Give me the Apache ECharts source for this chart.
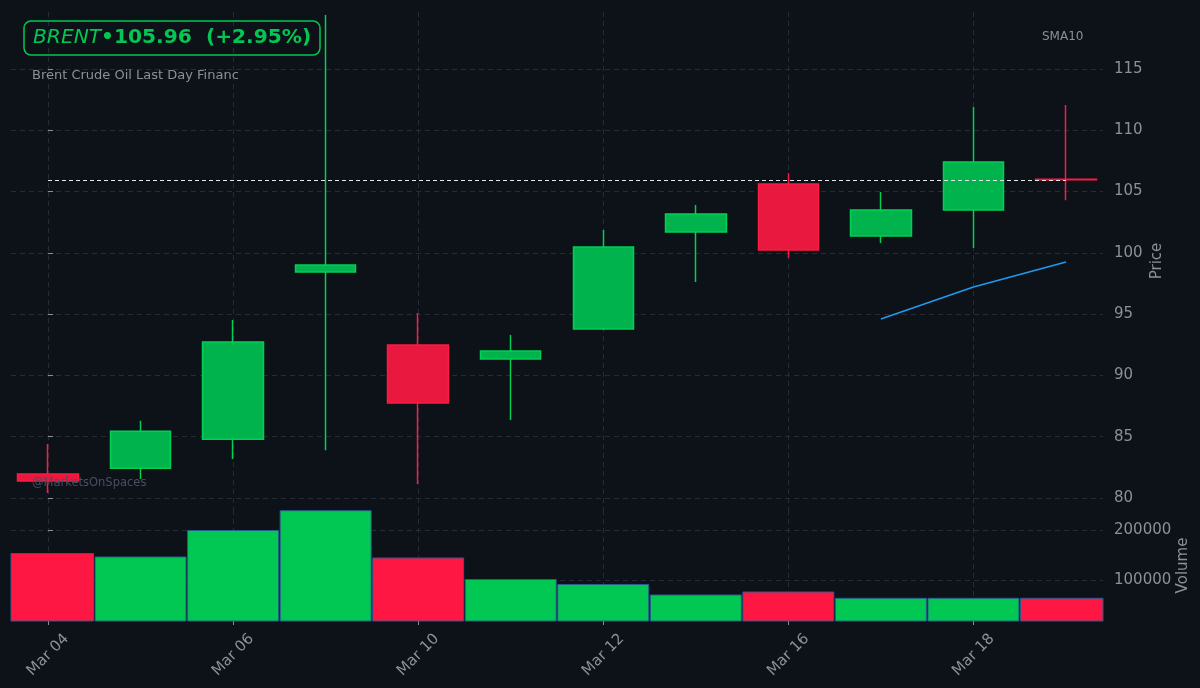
<!DOCTYPE html>
<html><head><meta charset="utf-8">
<script src="https://cdn.jsdelivr.net/npm/echarts@6/dist/echarts.min.js"></script>
<style>html,body{margin:0;padding:0;background:#0d1118;}#c{width:1200px;height:688px;}</style>
</head><body><div id="c"></div>
<script>
// ---- data ----
const dates   = ['Mar 04','Mar 05','Mar 06','Mar 09','Mar 10','Mar 11','Mar 12','Mar 13','Mar 16','Mar 17','Mar 18','Mar 19'];
const opens   = [81.96, 82.42, 84.80, 98.44, 92.48, 91.34, 93.79, 101.70, 105.62, 101.38, 103.50, 106.00];
const closes  = [81.39, 85.45, 92.73, 99.01, 87.75, 91.99, 100.48, 103.17, 100.23, 103.50, 107.41, 105.96];
const lows    = [80.40, 81.55, 83.18, 83.90, 81.14, 86.36, 93.70, 97.62, 99.58, 100.80, 100.40, 104.30];
const highs   = [84.40, 86.30, 94.52, 119.40, 95.10, 93.30, 101.86, 103.90, 106.50, 104.97, 111.90, 112.06];
const volumes = [153000, 146000, 199000, 238600, 144000, 101000, 91000, 70000, 76000, 63400, 63400, 63400];
const sma10   = [null, null, null, null, null, null, null, null, null, 94.60, 97.21, 99.25];
const lastPrice = 105.96;
const changeText = '(+2.95%)';
const symbol = 'BRENT';
const subtitle = 'Brent Crude Oil Last Day Financ';
const priceTicks = [80, 85, 90, 95, 100, 105, 110, 115];
const volumeTicks = [100000, 200000];
const dateTickIdx = [0, 2, 4, 6, 8, 10];

// ---- styling ----
const UP = '#00b34d', UP_EDGE = '#00d154';
const DOWN = '#e8183f', DOWN_EDGE = '#ff1a44';
const VUP = '#00c853', VDOWN = '#ff1744';
const GRIDC = '#262b35';
const TXT = '#8b9099';
const FONT = 'DejaVu Sans';

const candleData = dates.map((d, i) => [i, opens[i], closes[i], lows[i], highs[i]]);
const volData = dates.map((d, i) => ({
  value: [i, volumes[i]],
  itemStyle: { color: closes[i] >= opens[i] ? VUP : VDOWN }
}));
const smaData = sma10.map((v, i) => v == null ? null : [i, v]).filter(p => p);

const chart = echarts.init(document.getElementById('c'), null, { renderer: 'canvas' });
const splitStyle = { show: true, lineStyle: { color: GRIDC, type: [5, 4], width: 1 } };

function renderVolume(params, api) {
  const x = api.value(0), v = api.value(1);
  const top = api.coord([x, v]);
  const cs = params.coordSys;
  const bottom = cs.y + cs.height;
  const w = api.size([1, 0])[0] * 0.983;
  const left = Math.max(top[0] - w / 2, cs.x);
  const right = Math.min(top[0] + w / 2, cs.x + cs.width);
  return {
    type: 'rect',
    shape: { x: left, y: top[1], width: right - left, height: bottom - top[1] },
    style: { fill: api.visual('color'), stroke: '#2a5c8c', lineWidth: 1 }
  };
}

chart.setOption({
  backgroundColor: '#0d1118',
  animation: false,
  textStyle: { fontFamily: FONT },
  title: [
    {
      text: '{i|' + symbol + '}{b|•' + lastPrice.toFixed(2) + '  ' + changeText + '}',
      left: 24, top: 19,
      padding: [7, 9, 7, 9],
      borderColor: '#00c853', borderWidth: 1.5, borderRadius: 7,
      textStyle: {
        rich: {
          i: { fontFamily: FONT, fontStyle: 'italic', fontWeight: 'normal', fontSize: 20.2, color: '#00c853', lineHeight: 24 },
          b: { fontFamily: FONT, fontWeight: 'bold', fontSize: 20.2, color: '#00c853', lineHeight: 24 }
        }
      }
    },
    {
      text: subtitle, left: 32, top: 69,
      padding: 0,
      textStyle: { fontFamily: FONT, fontSize: 13, fontWeight: 'normal', color: TXT }
    },
    {
      text: '@MarketsOnSpaces', left: 32, top: 477,
      padding: 0,
      textStyle: { fontFamily: FONT, fontSize: 11.5, fontWeight: 'normal', color: '#48505e' }
    }
  ],
  legend: {
    data: [{ name: 'SMA10', icon: 'none' }],
    left: 1037, top: 30, itemWidth: 0, itemGap: 0, padding: 0,
    selectedMode: false,
    textStyle: { color: TXT, fontFamily: FONT, fontSize: 12 }
  },
  grid: [
    { left: 11, width: 1092, top: 12, height: 498, outerBoundsMode: 'none', containLabel: false },
    { left: 11, width: 1092, top: 510, height: 111, outerBoundsMode: 'none', containLabel: false }
  ],
  xAxis: [
    {
      type: 'value', gridIndex: 0, min: -0.4, max: 11.4,
      axisLine: { show: false },
      axisTick: { show: false, customValues: dateTickIdx },
      axisLabel: { show: false, customValues: dateTickIdx },
      splitLine: splitStyle
    },
    {
      type: 'value', gridIndex: 1, min: -0.4, max: 11.4,
      axisLine: { show: false },
      axisTick: { show: true, length: 4, lineStyle: { color: TXT, width: 1 }, customValues: dateTickIdx },
      axisLabel: {
        show: true, customValues: dateTickIdx,
        formatter: v => dates[Math.round(v)] || '',
        rotate: 45, align: 'center', verticalAlign: 'middle', margin: 34,
        color: TXT, fontSize: 15, fontFamily: FONT
      },
      splitLine: splitStyle
    }
  ],
  yAxis: [
    {
      type: 'value', gridIndex: 0, position: 'right', min: 79.02, max: 119.65,
      name: 'Price', nameLocation: 'middle', nameGap: 47, nameRotate: 90, nameMoveOverlap: false,
      nameTextStyle: { color: TXT, fontSize: 15, fontFamily: FONT },
      axisLine: { show: false },
      axisTick: { show: true, length: 5, lineStyle: { color: TXT }, customValues: priceTicks },
      axisLabel: { customValues: priceTicks, color: TXT, fontSize: 15, fontFamily: FONT, margin: 11, padding: [4, 0, 0, 0], formatter: v => String(v) },
      splitLine: splitStyle
    },
    {
      type: 'value', gridIndex: 1, position: 'right', min: 18000, max: 240000,
      name: 'Volume', nameLocation: 'middle', nameGap: 73, nameRotate: 90, nameMoveOverlap: false,
      nameTextStyle: { color: TXT, fontSize: 15, fontFamily: FONT },
      axisLine: { show: false },
      axisTick: { show: true, length: 5, lineStyle: { color: TXT }, customValues: volumeTicks },
      axisLabel: { customValues: volumeTicks, color: TXT, fontSize: 15, fontFamily: FONT, margin: 11, padding: [4, 0, 0, 0], formatter: v => String(v) },
      splitLine: splitStyle
    }
  ],
  series: [
    {
      name: 'BRENT', type: 'candlestick', xAxisIndex: 0, yAxisIndex: 0,
      data: candleData, encode: { x: 0, y: [1, 2, 3, 4] },
      barWidth: 61,
      itemStyle: { color: UP, color0: DOWN, borderColor: UP_EDGE, borderColor0: DOWN_EDGE, borderColorDoji: DOWN_EDGE, borderWidth: 1.5 },
      markLine: {
        silent: true, symbol: ['none', 'none'], label: { show: false },
        lineStyle: { color: '#e8e8e8', type: [4, 3], width: 1 },
        data: [[{ coord: [0, lastPrice] }, { coord: [dates.length - 1, lastPrice] }]]
      },
      z: 3
    },
    {
      name: 'SMA10', type: 'line', xAxisIndex: 0, yAxisIndex: 0,
      data: smaData, showSymbol: false, symbol: 'none',
      lineStyle: { color: '#1e9bef', width: 1.6 }, itemStyle: { color: '#1e9bef' },
      z: 4
    },
    {
      name: 'Volume', type: 'custom', xAxisIndex: 1, yAxisIndex: 1,
      data: volData, renderItem: renderVolume, encode: { x: 0, y: 1 }
    }
  ]
});
</script>
</body></html>
